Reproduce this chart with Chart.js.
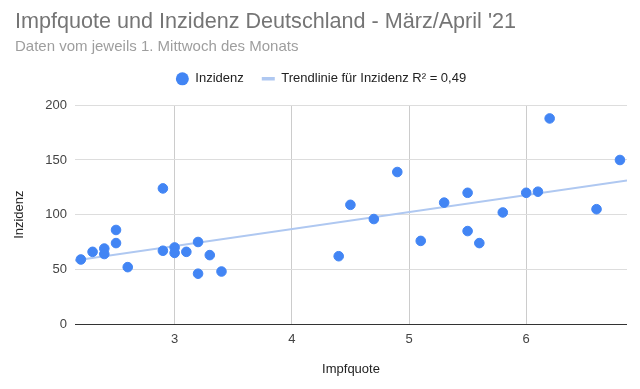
<!DOCTYPE html>
<html>
<head>
<meta charset="utf-8">
<script src="https://cdn.jsdelivr.net/npm/chart.js@4.4.1/dist/chart.umd.min.js"></script>
<style>
html,body{margin:0;padding:0;background:#fff;}
#wrap{width:640px;height:389px;position:relative;}
</style>
</head>
<body>
<div id="wrap"><canvas id="c" width="640" height="389"></canvas></div>
<script>
// Data
const impfquote = [2.2,2.3,2.4,2.4,2.5,2.5,2.6,2.9,2.9,3.0,3.0,3.1,3.2,3.2,3.3,3.4,
                   4.4,4.5,4.7,4.9,5.1,5.3,5.5,5.5,5.6,5.8,6.0,6.1,6.2,6.6,6.8];
const inzidenz  = [59,66,69,64,86,74,52,124,67,70,65,66,75,46,63,48,
                   62,109,96,139,76,111,120,85,74,102,120,121,188,105,150];
const xTicks = [3,4,5,6];
const yTicks = [0,50,100,150,200];
const xRange = [2.15,6.86];
const yRange = [0,200];
const titleText = "Impfquote und Inzidenz Deutschland - März/April '21";
const subtitleText = "Daten vom jeweils 1. Mittwoch des Monats";
const seriesName = "Inzidenz";
const trendName = "Trendlinie für Inzidenz R² = 0,49";
const xTitle = "Impfquote";
const yTitle = "Inzidenz";

// least-squares trendline derived from the data
const n = impfquote.length;
const mx = impfquote.reduce((a,b)=>a+b,0)/n;
const my = inzidenz.reduce((a,b)=>a+b,0)/n;
let sxy=0,sxx=0;
for(let i=0;i<n;i++){sxy+=(impfquote[i]-mx)*(inzidenz[i]-my);sxx+=(impfquote[i]-mx)**2;}
const slope=sxy/sxx, icpt=my-slope*mx;
const trend = xRange.map(x=>({x:x,y:icpt+slope*x}));

const points = impfquote.map((x,i)=>({x:x,y:inzidenz[i]}));
const FONT = "'Liberation Sans', Arial, sans-serif";
const BLUE = '#4285f4', TREND = '#afc8f1';

// adds space below the legend row so the plot starts where the reference's does
const legendSpace = {
  id:'legendSpace',
  beforeLayout(chart){
    const lg = chart.legend;
    if(lg && !lg._spaced){
      const orig = lg.fit.bind(lg);
      lg.fit = function(){ orig(); this.height += 10; };
      lg._spaced = true;
    }
  }
};

new Chart(document.getElementById('c'),{
  type:'scatter',
  data:{datasets:[
    {label:seriesName,data:points,backgroundColor:BLUE,borderColor:BLUE,pointRadius:4.8,pointHoverRadius:4.8,pointStyle:'circle',order:1},
    {label:trendName,type:'line',data:trend,borderColor:TREND,backgroundColor:TREND,borderWidth:2,pointRadius:0,fill:false,pointStyle:'line',order:2}
  ]},
  plugins:[legendSpace],
  options:{
    responsive:false,animation:false,
    layout:{padding:{left:15,right:13,top:0,bottom:0}},
    plugins:{
      title:{display:true,text:titleText,align:'start',color:'#757575',font:{family:FONT,size:21.6,weight:'normal',lineHeight:1.2},padding:{top:9.3,bottom:3}},
      subtitle:{display:true,text:subtitleText,align:'start',color:'#9e9e9e',font:{family:FONT,size:15,weight:'normal',lineHeight:1.2},padding:{top:0,bottom:-1.9}},
      legend:{display:true,position:'top',align:'center',
        labels:{usePointStyle:true,boxWidth:13,boxHeight:9.2,pointStyleWidth:13,color:'#222',font:{family:FONT,size:13},padding:18,
          generateLabels:(chart)=>chart.data.datasets.map((d,i)=>({
            text:d.label,fillStyle:i===0?BLUE:TREND,strokeStyle:i===0?BLUE:TREND,
            lineWidth:i===0?0:3.5,pointStyle:i===0?'circle':'line',datasetIndex:i,hidden:false,fontColor:'#222'}))
        }},
      tooltip:{enabled:false}
    },
    scales:{
      x:{type:'linear',min:xRange[0],max:xRange[1],
        afterBuildTicks:(s)=>{s.ticks=xTicks.map(v=>({value:v}));},
        afterFit:(s)=>{s.height=65;},
        grid:{color:'#cccccc',drawTicks:false,lineWidth:1},
        border:{display:false},
        ticks:{color:'#444',font:{family:FONT,size:13},padding:8,callback:(v)=>String(v)},
        title:{display:true,text:xTitle,color:'#222',font:{family:FONT,size:13},padding:{top:0,bottom:12}}
      },
      y:{type:'linear',min:yRange[0],max:yRange[1],
        afterBuildTicks:(s)=>{s.ticks=yTicks.map(v=>({value:v}));},
        afterFit:(s)=>{s.width=60;},
        grid:{color:(ctx)=>ctx.tick&&ctx.tick.value===0?'#333333':'#dddddd',drawTicks:false,lineWidth:1},
        border:{display:false},
        ticks:{color:'#444',font:{family:FONT,size:13},padding:8,callback:(v)=>String(v)},
        title:{display:true,text:yTitle,color:'#222',font:{family:FONT,size:13},padding:{top:-3.8,bottom:0}}
      }
    }
  }
});
</script>
</body>
</html>
